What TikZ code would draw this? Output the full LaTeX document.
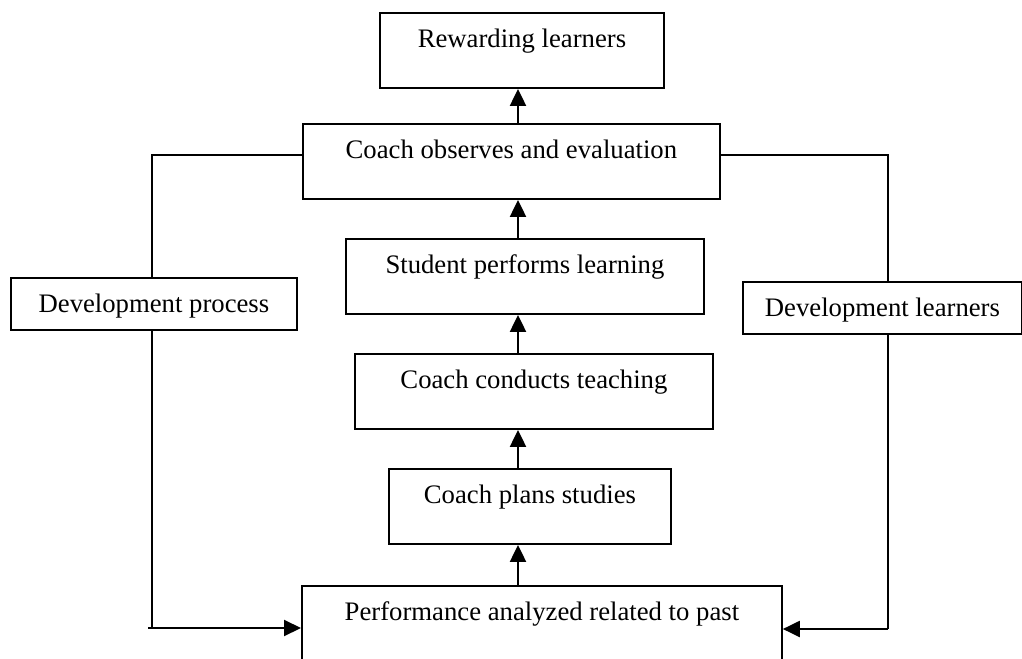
\documentclass[tikz,border=0pt]{standalone}
\usepackage{fontspec}
\setmainfont{Liberation Serif}
\usetikzlibrary{arrows.meta,calc}

\begin{document}
\begin{tikzpicture}[x=0.02cm,y=-0.02cm,
	font=\fontsize{15.2}{18}\selectfont,
	stage/.style={draw,line width=1.1pt,anchor=north west,inner xsep=0pt,inner ysep=0pt,text height=0.7cm,text depth=0.8cm},
	side/.style={draw,line width=1.1pt,anchor=north west,inner xsep=0pt,inner ysep=0pt,text height=0.7cm,text depth=0.34cm},
	up/.style={line width=1.2pt,-{Triangle[length=0.34cm,width=0.32cm]}},
	feed/.style={line width=0.6pt}]
\useasboundingbox (0,0) rectangle (1022,659);

% column of stages
\node[stage,minimum width=5.68cm] (rw) at (379,12) {Rewarding learners};
\node[stage,minimum width=8.34cm] (obs) at (302,123) {Coach observes and evaluation};
\node[stage,minimum width=7.16cm] (stu) at (345,238) {Student performs learning};
\node[stage,minimum width=7.16cm] (con) at (354,353) {Coach conducts teaching};
\node[stage,minimum width=5.64cm] (pln) at (388,468) {Coach plans studies};
\node[stage,minimum width=9.6cm,text depth=0.95cm] (prf) at (301,585) {Performance analyzed related to past};

% side boxes
\node[side,minimum width=5.72cm] (dvp) at (10,277) {Development process};
\node[side,minimum width=5.58cm] (dvl) at (742,281) {Development learners};

\coordinate (ax) at (518,0);
\coordinate (tl) at (152,155);
\coordinate (tr) at (888,155);
\coordinate (bl) at (152,628);
\coordinate (br) at (888,629);

\foreach \a/\b in {prf/pln,pln/con,con/stu,stu/obs,obs/rw}{
	\draw[up] (\a.north -| ax)--(\b.south -| ax);
}

\draw[feed] (obs.west |- tl)--(tl)--(dvp.north -| tl);
\draw[feed] (dvp.south -| tl)--(bl);
\draw[up] ($(bl)+(-4,0)$)--(prf.west |- bl);
\draw[feed] (obs.east |- tr)--(tr)--(dvl.north -| tr);
\draw[feed] (dvl.south -| tr)--(br);
\draw[up] (br)--(prf.east |- br);

\end{tikzpicture}
\end{document}
